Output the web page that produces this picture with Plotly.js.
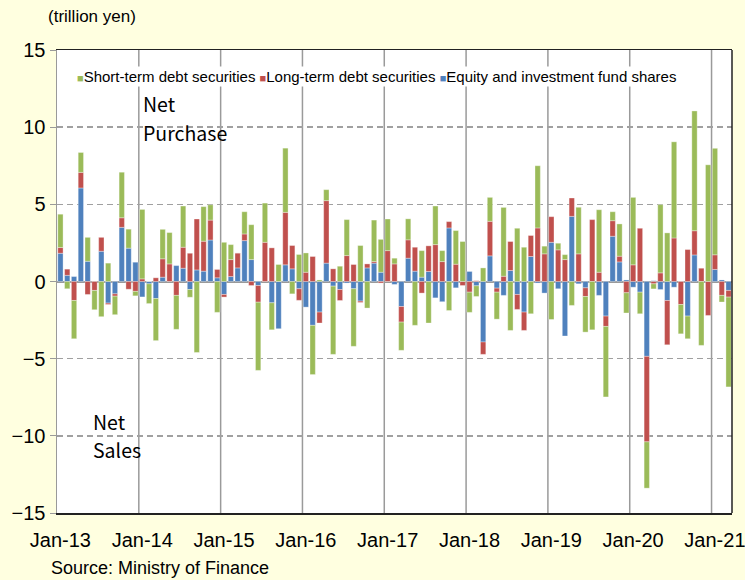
<!DOCTYPE html>
<html>
<head>
<meta charset="utf-8">
<script src="https://cdn.plot.ly/plotly-3.0.1.min.js"></script>
<style>html,body{margin:0;padding:0;background:#FFFFE0;}</style>
</head>
<body>
<div id="chart" style="width:745px;height:580px;"></div>
<script>
// Monthly values, Jan-13 .. Mar-21 (trillion yen)
var equity = [
  1.83, 0.40, 0.32, 6.06, 1.31, 0.00, 1.96, -1.40, -0.80, 3.51, 2.16, 1.25,
  -1.00, -0.15, -1.10, 0.28, 0.00, 1.03, 0.86, -0.52, 0.75, 0.67, 2.69, 0.24,
  -0.84, 0.32, 0.88, 2.65, 1.42, -0.26, 0.00, -1.38, -3.06, 1.08, 0.82, -0.47,
  -1.66, -2.84, -1.98, 1.19, -0.30, -0.52, -0.10, -0.47, -1.27, 0.88, 1.19, 0.60,
  0.00, -0.19, -1.62, 1.51, 0.67, 0.28, 0.65, -1.06, -1.31, 3.47, -0.41, 0.00,
  0.65, -0.28, -3.92, 1.66, -0.43, -0.90, 0.71, -0.84, -1.98, 1.62, -0.10, -0.75,
  2.54, -0.47, -3.53, 4.22, -0.15, -0.41, 0.00, -0.90, -2.24, 2.93, 1.27, 0.10,
  -0.37, -0.69, -4.85, 0.05, -0.52, -1.23, -0.37, 0.00, -2.24, 1.72, 0.00, 0.00,
  0.78, 0.10, -0.58
];
var longTerm = [
  0.37, 0.40, -1.23, 1.01, -0.84, -0.58, 0.90, -0.09, -0.15, 0.62, -0.50, -0.64,
  0.17, 0.00, 0.24, 1.19, 1.14, -0.90, 1.36, 1.83, 3.30, 1.94, 1.29, 0.54,
  -0.17, 1.10, 0.97, 0.43, -0.26, -1.08, 2.54, 2.18, 0.00, 3.40, 1.51, -0.75,
  0.60, 1.62, -0.71, 4.05, 0.82, -0.71, 1.68, 1.10, -0.09, 0.26, 0.10, -0.10,
  2.00, 1.14, -1.01, 1.19, 1.55, -0.75, 1.66, 2.39, 1.29, 0.41, 1.12, -0.26,
  -0.69, 0.05, -0.80, 2.24, -0.26, 0.34, 1.88, -0.97, -1.19, 1.36, 3.47, 1.79,
  1.66, 2.05, 1.42, 1.19, 1.79, -0.56, 4.01, 0.60, -0.67, 1.01, 0.37, -0.73,
  1.08, 3.45, -5.54, -0.15, 0.56, -2.87, 2.82, -1.49, 2.07, 1.57, 0.86, -2.20,
  0.95, -0.90, -0.43
];
var shortTerm = [
  2.16, -0.47, -2.48, 1.29, 1.55, -1.25, -2.28, 1.19, -1.20, 2.95, 1.23, -0.29,
  4.50, -1.28, -2.73, 1.91, 2.03, -2.20, 2.67, -0.50, -4.60, 2.24, 0.99, -2.00,
  2.54, 0.97, 0.00, 1.44, 2.26, -4.42, 2.54, -1.75, 1.10, 4.16, -0.80, 1.75,
  1.25, -3.19, 0.10, 0.71, -4.42, 0.99, 2.33, -3.73, 2.33, -1.72, 2.69, 2.13,
  2.05, 0.37, -1.83, 1.36, -2.84, 1.72, -2.69, 2.50, 0.71, -1.88, 2.18, 2.59,
  -1.31, -0.69, 0.88, 1.55, -1.75, 4.46, -3.17, 3.45, 2.22, -2.09, 4.03, 0.50,
  -2.46, 0.43, 0.32, -1.55, 3.02, -2.31, -3.13, 4.05, -4.57, 0.58, 2.09, -1.31,
  4.37, -1.40, -3.00, -0.33, 4.42, 3.15, 6.23, -1.90, -1.47, 7.76, -4.14, 7.56,
  6.90, -0.43, -5.82
];
var tickLabels = ["Jan-13","Jan-14","Jan-15","Jan-16","Jan-17","Jan-18","Jan-19","Jan-20","Jan-21"];
var seriesNames = ["Short-term debt securities","Long-term debt securities","Equity and investment fund shares"];
var colors = {short:"#9BBB59", long:"#C0504D", equity:"#4F81BD"};

var n = equity.length;
var xs = equity.map(function(_, i){ return i; });
var tickVals = tickLabels.map(function(_, k){ return k * 12; });
var yearBounds = tickVals.slice(1).map(function(v){ return v - 0.5; });

var font = "Liberation Sans, Arial, sans-serif";
var barLine = {color:"rgba(255,255,255,0.55)", width:0.6};

var traces = [
  {type:"bar", x:xs, y:equity, name:seriesNames[2], marker:{color:colors.equity, line:barLine}, showlegend:false},
  {type:"bar", x:xs, y:longTerm, name:seriesNames[1], marker:{color:colors.long, line:barLine}, showlegend:false},
  {type:"bar", x:xs, y:shortTerm, name:seriesNames[0], marker:{color:colors.short, line:barLine}, showlegend:false}
];

function sq(c){ return '<span style="color:' + c + ';font-size:11px">\u25A0</span>'; }
var legendText = sq(colors.short) + seriesNames[0] + ' ' + sq(colors.long) + seriesNames[1] + ' ' + sq(colors.equity) + seriesNames[2];

var shapes = yearBounds.map(function(b){
  return {type:"line", xref:"x", yref:"paper", x0:b, x1:b, y0:0, y1:1, line:{color:"#9a9a9a", width:1.5}, layer:"below"};
});
shapes.push({type:"line", xref:"paper", yref:"paper", x0:1, x1:1, y0:0, y1:1, line:{color:"#222", width:1.5}});

var jp = "Noto Sans CJK JP, sans-serif";
var layout = {
  width:745, height:580,
  paper_bgcolor:"#FFFFE0", plot_bgcolor:"#FFFFFF",
  margin:{l:57, r:13, t:50, b:67},
  barmode:"relative", bargap:0.22,
  showlegend:false,
  font:{family:font, color:"#000"},
  xaxis:{range:[-0.5, n - 0.5], tickvals:tickVals, ticktext:tickLabels, showgrid:false, zeroline:false,
         ticks:"", tickfont:{size:20, family:font, color:"#000"}, showline:true, linecolor:"#222", linewidth:1.5, mirror:true,
         ticklabelstandoff:8, ticklabeloverflow:"allow"},
  yaxis:{range:[-15, 15], tickvals:[-15,-10,-5,0,5,10,15], showgrid:true, gridcolor:"#a0a0a0", gridwidth:1.5, griddash:"6px,4px",
         zeroline:true, zerolinecolor:"#9a9a9a", zerolinewidth:2, ticks:"outside", ticklen:6, tickcolor:"#9a9a9a",
         tickfont:{size:20, family:font, color:"#000"}, showline:true, linecolor:"#9a9a9a", linewidth:1.5},
  shapes:shapes,
  annotations:[
    {text:"(trillion yen)", xref:"paper", yref:"paper", x:-0.016, y:1.0734, xanchor:"left", yanchor:"middle", showarrow:false, font:{size:17, family:font}},
    {text:legendText, xref:"paper", yref:"paper", x:0.027, y:0.9417, xanchor:"left", yanchor:"middle", showarrow:false, bgcolor:"#FFFFFF", font:{size:15, family:font}},
    {text:"Net", xref:"paper", yref:"paper", x:0.124, y:0.8844, xanchor:"left", yanchor:"middle", showarrow:false, font:{size:19.5, family:jp}},
    {text:"Purchase", xref:"paper", yref:"paper", x:0.124, y:0.8218, xanchor:"left", yanchor:"middle", showarrow:false, font:{size:19.5, family:jp}},
    {text:"Net", xref:"paper", yref:"paper", x:0.05, y:0.1987, xanchor:"left", yanchor:"middle", showarrow:false, font:{size:19.5, family:jp}},
    {text:"Sales", xref:"paper", yref:"paper", x:0.05, y:0.138, xanchor:"left", yanchor:"middle", showarrow:false, font:{size:19.5, family:jp}},
    {text:"Source: Ministry of Finance", xref:"paper", yref:"paper", x:-0.012, y:-0.1188, xanchor:"left", yanchor:"middle", showarrow:false, font:{size:18, family:font}}
  ]
};
Plotly.newPlot("chart", traces, layout, {displayModeBar:false, staticPlot:true});
</script>
</body>
</html>
